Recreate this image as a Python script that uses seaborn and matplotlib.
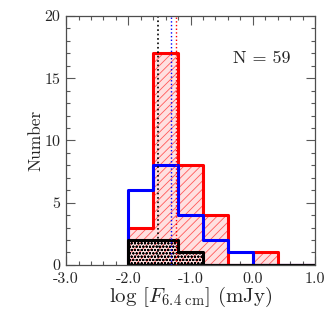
import matplotlib
matplotlib.use("Agg")
import matplotlib.pyplot as plt
import numpy as np
import seaborn as sns
from matplotlib.ticker import MultipleLocator, FuncFormatter

# bins in log F_6.4cm (mJy)
bin_edges = [-2.0, -1.6, -1.2, -0.8, -0.4, 0.0, 0.4, 0.8, 1.2]
red_counts = [3, 17, 8, 4, 0, 1, 0, 0]
blue_counts = [6, 8, 4, 2, 1, 0, 0, 0]
black_counts = [2, 2, 1, 0, 0, 0, 0, 0]
# medians (dotted lines)
median_black = -1.52
median_blue = -1.31
median_red = -1.23

sns.set_style("ticks")
plt.rcParams["font.family"] = ["serif"]
plt.rcParams["font.serif"] = ["cmr10", "DejaVu Serif"]
plt.rcParams["mathtext.fontset"] = "cm"
plt.rcParams["axes.unicode_minus"] = False
plt.rcParams["axes.formatter.use_mathtext"] = True
plt.rcParams["hatch.linewidth"] = 0.6

centers = [(a + b) / 2 for a, b in zip(bin_edges[:-1], bin_edges[1:])]

fig = plt.figure(figsize=(3.32, 3.32), dpi=100)
ax = fig.add_axes([0.199, 0.202, 0.75, 0.75])


def outline(counts, color, lw=2.2):
    # closed step outline (like histtype="step")
    sns.histplot(x=centers, weights=counts, bins=bin_edges, element="step",
                 fill=True, color=color, alpha=None, facecolor="none",
                 edgecolor=color, linewidth=lw, ax=ax)


# red: light fill + hatch, then thick outline
sns.histplot(x=centers, weights=red_counts, bins=bin_edges, element="step",
             fill=True, color="red", alpha=None, ax=ax,
             facecolor=(1, 0.88, 0.88), edgecolor=(1, 0.35, 0.35), linewidth=0)
ax.collections[-1].set_hatch("////")
outline(red_counts, "red")
outline(blue_counts, "blue")
sns.histplot(x=centers, weights=black_counts, bins=bin_edges, element="step",
             fill=True, color="black", alpha=None, facecolor="none",
             edgecolor="black", linewidth=0, ax=ax)
ax.collections[-1].set_hatch("ooooo")
outline(black_counts, "black")

ax.axvline(median_black, color="black", ls=":", lw=1.2)
ax.axvline(median_blue, color="blue", ls=":", lw=1.0)
ax.axvline(median_red, color="red", ls=":", lw=1.0)

ax.set_xlim(-3.0, 1.0)
ax.set_ylim(0, 20)
ax.xaxis.set_major_locator(MultipleLocator(1.0))
ax.xaxis.set_minor_locator(MultipleLocator(0.2))
ax.yaxis.set_major_locator(MultipleLocator(5))
ax.yaxis.set_minor_locator(MultipleLocator(1))
ax.xaxis.set_major_formatter(FuncFormatter(lambda v, p: f"{v:.1f}"))
ax.yaxis.set_major_formatter(FuncFormatter(lambda v, p: f"{v:.0f}"))
ax.tick_params(which="both", direction="in", top=True, right=True,
               color="0.35", width=0.8, labelsize=11.5)
ax.tick_params(axis="x", pad=5.5)
ax.tick_params(axis="y", pad=4)
ax.tick_params(which="major", length=6.5)
ax.tick_params(which="minor", length=3)
for s in ax.spines.values():
    s.set_color("0.3")
    s.set_linewidth(0.9)

ax.set_xlabel(r"log $[F_{6.4\ \rm cm}]$ (mJy)", fontsize=15)
ax.xaxis.set_label_coords(0.5, -0.082)
ax.set_ylabel("Number", fontsize=12.5)
ax.yaxis.set_label_coords(-0.092, 0.5)
ax.text(-0.32, 16.6, r"N = 59", fontsize=13, va="center", ha="left")

fig.savefig("out.png", dpi=100)
